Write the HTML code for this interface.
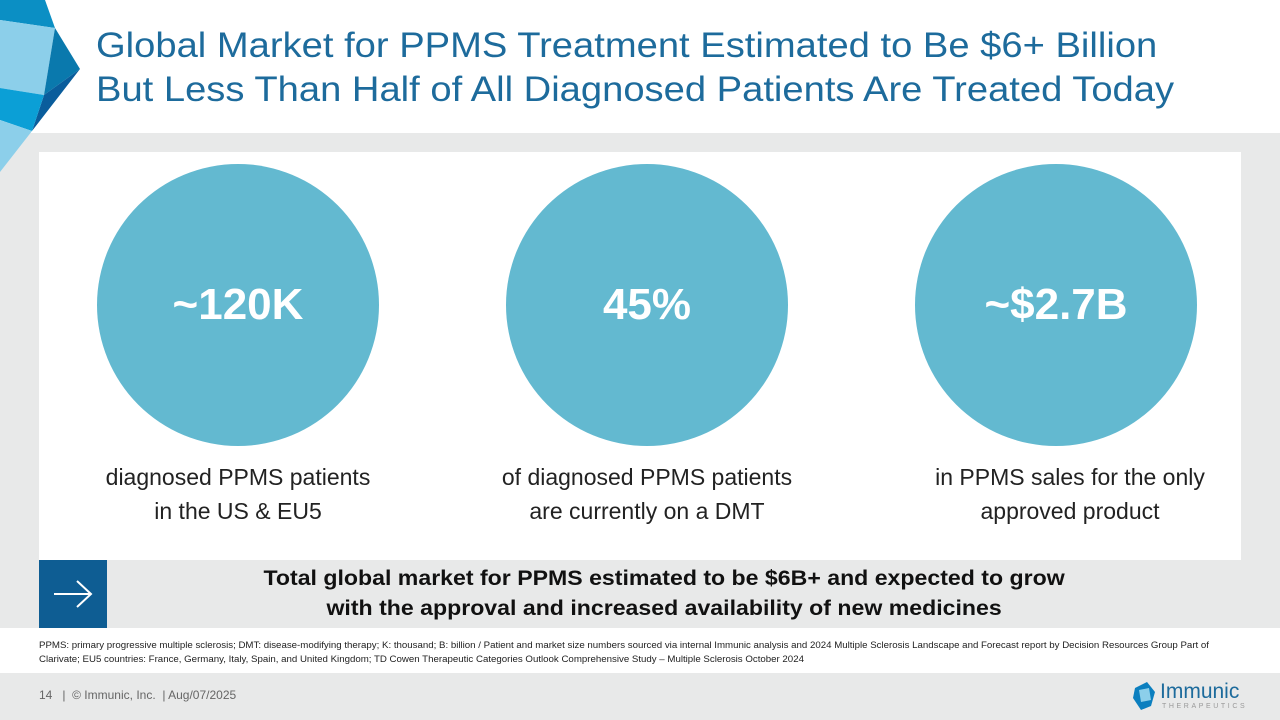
<!DOCTYPE html>
<html><head><meta charset="utf-8"><style>
*{margin:0;padding:0;box-sizing:border-box}
body{width:1280px;height:720px;position:relative;overflow:hidden;background:#fff;font-family:"Liberation Sans",sans-serif}
.abs{position:absolute}
.title{left:96px;top:24px;font-size:35px;line-height:44px;color:#1d6b9c;white-space:nowrap;transform:scaleX(1.09);transform-origin:left top}
.circle{width:282px;height:282px;border-radius:50%;background:#63b9d0;color:#fff;font-weight:bold;font-size:44px;display:flex;align-items:center;justify-content:center;top:164px}
.cap{top:460px;width:380px;text-align:center;font-size:23px;line-height:34px;color:#222}
</style></head><body>
<div class="abs" style="left:0;top:133px;width:1280px;height:587px;background:#e8e9e9"></div>
<svg class="abs" style="left:0;top:0" width="90" height="175" viewBox="0 0 90 175">
<polygon points="0,0 45,0 55,28 0,20" fill="#0b8fc4"/>
<polygon points="0,20 55,28 44,95 0,88" fill="#8ccfea"/>
<polygon points="55,28 80,69 44,95" fill="#0a79ad"/>
<polygon points="80,69 44,95 32,131" fill="#0a5d9c"/>
<polygon points="0,88 44,95 32,131 0,120" fill="#0b9fd6"/>
<polygon points="0,120 32,131 0,172" fill="#8ccfea"/>
</svg>
<div class="abs title">Global Market for PPMS Treatment Estimated to Be $6+ Billion<br>But Less Than Half of All Diagnosed Patients Are Treated Today</div>
<div class="abs" style="left:39px;top:152px;width:1202px;height:408px;background:#fff"></div>
<div class="abs circle" style="left:97px">~120K</div>
<div class="abs circle" style="left:506px">45%</div>
<div class="abs circle" style="left:915px">~$2.7B</div>
<div class="abs cap" style="left:48px">diagnosed PPMS patients<br>in the US &amp; EU5</div>
<div class="abs cap" style="left:457px">of diagnosed PPMS patients<br>are currently on a DMT</div>
<div class="abs cap" style="left:880px">in PPMS sales for the only<br>approved product</div>
<div class="abs" style="left:39px;top:560px;width:68px;height:68px;background:#0e5d93">
<svg width="68" height="68"><line x1="15" y1="34" x2="52" y2="34" stroke="#fff" stroke-width="2"/><polyline points="38,21 52,34 38,47" fill="none" stroke="#fff" stroke-width="2"/></svg></div>
<div class="abs" style="left:107px;top:564px;width:1114px;text-align:center;font-size:21px;font-weight:bold;line-height:30px;color:#111;transform:scaleX(1.1);transform-origin:556px 0">Total global market for PPMS estimated to be $6B+ and expected to grow<br>with the approval and increased availability of new medicines</div>
<div class="abs" style="left:0;top:628px;width:1280px;height:45px;background:#fff"></div>
<div class="abs" style="left:39px;top:638px;width:1200px;font-size:8.9px;line-height:14px;color:#222;white-space:nowrap;transform:scaleX(1.09);transform-origin:left top">PPMS: primary progressive multiple sclerosis; DMT: disease-modifying therapy; K: thousand; B: billion / Patient and market size numbers sourced via internal Immunic analysis and 2024 Multiple Sclerosis Landscape and Forecast report by Decision Resources Group Part of<br>Clarivate; EU5 countries: France, Germany, Italy, Spain, and United Kingdom; TD Cowen Therapeutic Categories Outlook Comprehensive Study – Multiple Sclerosis October 2024</div>
<div class="abs" style="left:39px;top:688px;font-size:12px;color:#666">14 &nbsp;&nbsp;| &nbsp;© Immunic, Inc. &nbsp;| Aug/07/2025</div>
<svg class="abs" style="left:1131px;top:680px" width="26" height="32"><polygon points="4,8 16,2 24,12 20,26 10,30 2,18" fill="#0b7fbf"/><polygon points="8,10 18,8 20,20 10,22" fill="#8ccfea"/></svg>
<div class="abs" style="left:1160px;top:680px;font-size:21px;color:#1d6b9c;line-height:24px">Immunic</div>
<div class="abs" style="left:1162px;top:703px;font-size:7px;letter-spacing:2.6px;color:#999">THERAPEUTICS</div>
</body></html>
